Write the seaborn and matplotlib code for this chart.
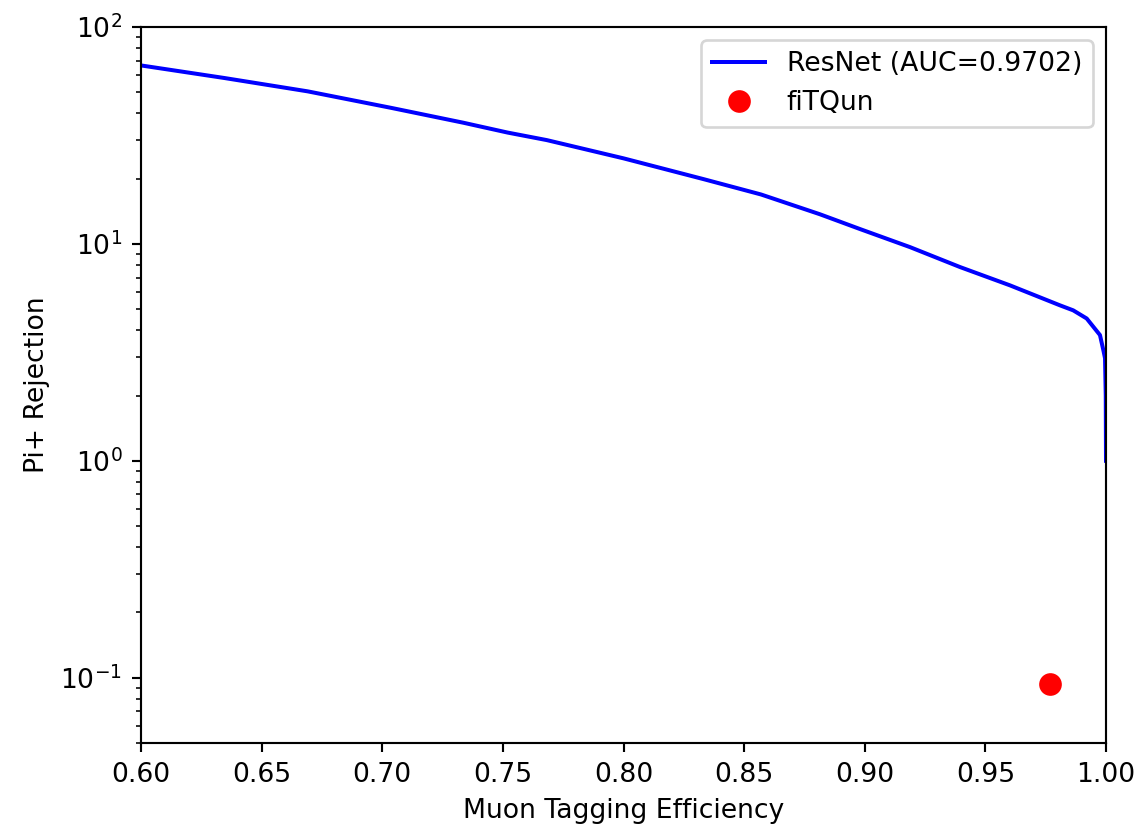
import matplotlib
matplotlib.use("Agg")
import matplotlib.pyplot as plt
import seaborn as sns
import pandas as pd

# ResNet ROC curve (muon efficiency vs pi+ rejection)
efficiency = [0.600, 0.6345, 0.6691, 0.7036, 0.7336, 0.7405, 0.752, 0.7682, 0.800,
              0.8331, 0.8570, 0.8814, 0.8981, 0.9188, 0.9395, 0.9602, 0.9809,
              0.9864, 0.9920, 0.9975, 0.9990, 0.9996, 0.9999, 1.0]
rejection = [66.5, 58.2, 50.5, 42.4, 36.2, 34.8, 32.6, 30.1, 24.8,
             19.9, 16.9, 13.7, 11.7, 9.66, 7.82, 6.44, 5.21,
             4.94, 4.53, 3.80, 3.20, 2.97, 2.0, 1.0]

# fiTQun working point
fitqun_eff = [0.9768]
fitqun_rej = [0.094]

resnet_label = "ResNet (AUC=0.9702)"
fitqun_label = "fiTQun"

DPI = 192
fig = plt.figure(figsize=(1137 / DPI, 826 / DPI), dpi=DPI)
ax = fig.add_axes([141 / 1137, 1 - 743 / 826, (1106 - 141) / 1137, (743 - 27) / 826])

df = pd.DataFrame({"eff": efficiency, "rej": rejection})
sns.lineplot(data=df, x="eff", y="rej", ax=ax, color="blue", linewidth=1.5,
             label=resnet_label, sort=False, estimator=None)
ax.plot(fitqun_eff, fitqun_rej, "o", color="red", markersize=7.5, label=fitqun_label,
        linestyle="none")

ax.set_yscale("log")
ax.set_xlim(0.6, 1.0)
ax.set_ylim(0.05, 100)
ax.set_xlabel("Muon Tagging Efficiency")
ax.set_ylabel("Pi+ Rejection")
ax.legend(loc="upper right")

fig.savefig("out.png", dpi=DPI)
